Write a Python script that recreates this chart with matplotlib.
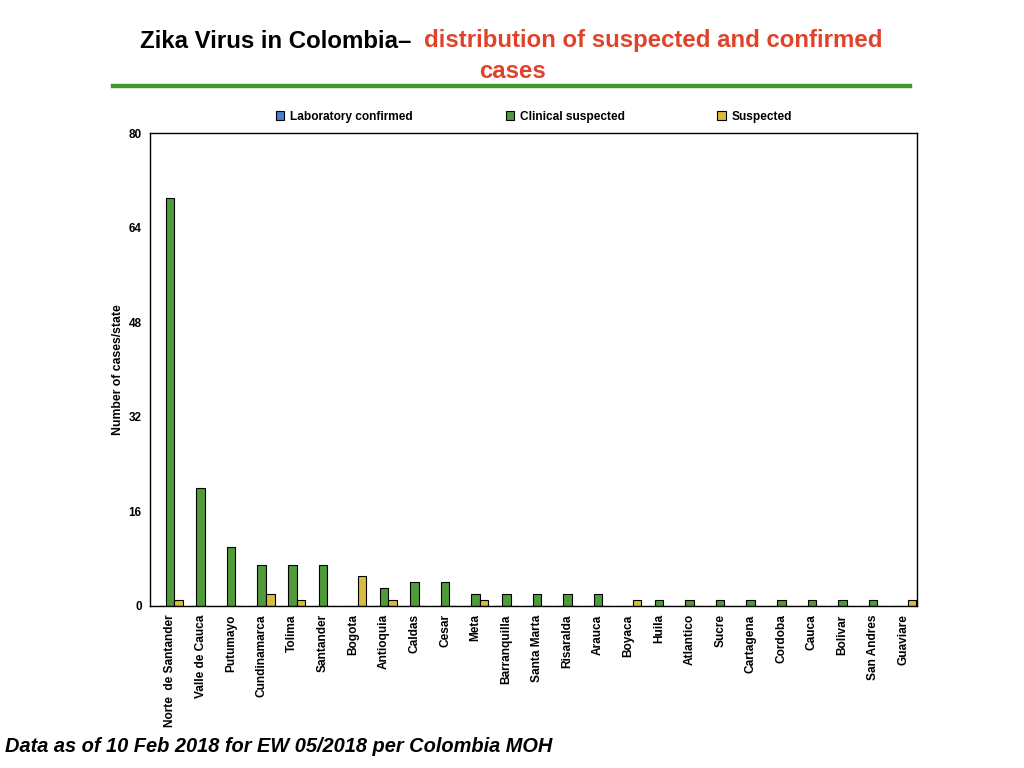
import matplotlib
matplotlib.use("Agg")
import matplotlib.pyplot as plt
from matplotlib.lines import Line2D
import numpy as np

plt.rcParams["font.family"] = ["Liberation Sans", "DejaVu Sans"]

# ── data ─────────────────────────────────────────────────────────────────────
states = ["Norte  de Santander", "Valle de Cauca", "Putumayo", "Cundinamarca",
          "Tolima", "Santander", "Bogota", "Antioquia", "Caldas", "Cesar",
          "Meta", "Barranquilla", "Santa Marta", "Risaralda", "Arauca",
          "Boyaca", "Huila", "Atlantico", "Sucre", "Cartagena", "Cordoba",
          "Cauca", "Bolivar", "San Andres", "Guaviare"]
lab_confirmed = [0] * 25
clinical_suspected = [69, 20, 10, 7, 7, 7, 0, 3, 4, 4, 2, 2, 2, 2, 2,
                      0, 1, 1, 1, 1, 1, 1, 1, 1, 0]
suspected = [1, 0, 0, 2, 1, 0, 5, 1, 0, 0, 1, 0, 0, 0, 0,
             1, 0, 0, 0, 0, 0, 0, 0, 0, 1]
y_ticks = [0, 16, 32, 48, 64, 80]

# ── figure ───────────────────────────────────────────────────────────────────
fig = plt.figure(figsize=(10.24, 7.68), dpi=100)
ax = fig.add_axes([150 / 1024, 162 / 768, 767 / 1024, 473 / 768])

x = np.arange(len(states))
w = 0.28
ax.bar(x - w, lab_confirmed, w, color="#4a7fd0", edgecolor="black",
       linewidth=0.8, label="Laboratory confirmed")
ax.bar(x, clinical_suspected, w, color="#4f9b3a", edgecolor="black",
       linewidth=0.8, label="Clinical suspected")
ax.bar(x + w, suspected, w, color="#dbbb3c", edgecolor="black",
       linewidth=0.8, label="Suspected")

ax.set_xlim(-0.655, 24.44)
ax.set_ylim(0, 80)
ax.set_yticks(y_ticks)
ax.set_yticklabels([str(t) for t in y_ticks], fontsize=8.5, fontweight="bold")
ax.set_xticks(x)
ax.set_xticklabels(states, rotation=90, fontsize=8.6, fontweight="bold")
ax.tick_params(length=0)
ax.tick_params(axis="y", pad=6)
ax.tick_params(axis="x", pad=6)
for s in ax.spines.values():
    s.set_linewidth(1.0)
ax.set_ylabel("Number of cases/state", fontsize=8.8, fontweight="bold", labelpad=3)

ax.legend(loc="lower left", bbox_to_anchor=((276 - 150) / 767, 1.022), ncol=3,
          frameon=False, prop={"weight": "bold", "size": 8.6},
          handlelength=0.7, handleheight=0.7, handletextpad=0.5,
          columnspacing=7.75, borderaxespad=0, borderpad=0)

# ── titles / decorations ─────────────────────────────────────────────────────
fig.text(411 / 1024, 1 - 41 / 768, "Zika Virus in Colombia\u2013", ha="right",
         va="center", fontsize=17.3, fontweight="bold", color="black")
fig.text(424 / 1024, 1 - 41 / 768, "distribution of suspected and confirmed",
         ha="left", va="center", fontsize=17.3, fontweight="bold", color="#e0432b")
fig.text(513 / 1024, 1 - 72 / 768, "cases", ha="center", va="center",
         fontsize=17.3, fontweight="bold", color="#e0432b")
fig.add_artist(Line2D([113 / 1024, 910 / 1024], [1 - 86 / 768, 1 - 86 / 768],
                      transform=fig.transFigure, color="#3e9a2c", linewidth=3.2))

fig.text(5 / 1024, 1 - 746 / 768,
         "Data as of 10 Feb 2018 for EW 05/2018 per Colombia MOH",
         ha="left", va="center", fontsize=14.4, fontweight="bold", style="italic")

fig.savefig("out.png", dpi=100)
